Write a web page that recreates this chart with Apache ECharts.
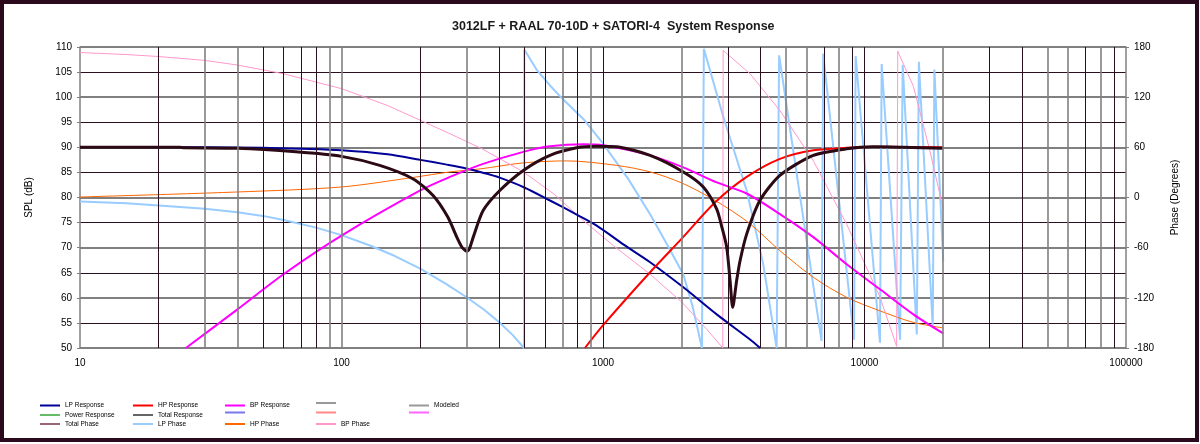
<!DOCTYPE html>
<html><head><meta charset="utf-8">
<script src="https://cdn.jsdelivr.net/npm/echarts@6/dist/echarts.min.js"></script>
<style>html,body{margin:0;padding:0;background:#fff}#c{width:1200px;height:444px}</style>
</head><body><div id="c"></div>
<script>
// ---- data ----
const title = '3012LF + RAAL 70-10D + SATORI-4  System Response';
const xTickLabels = [10, 100, 1000, 10000, 100000];
const gridFreqDark = [20, 50, 60, 70, 80, 200, 400, 500, 600, 800, 1000, 3000, 4000, 7000, 9000, 10000, 30000, 40000, 70000, 90000];
const gridFreqGray = [30, 40, 90, 100, 300, 700, 900, 2000, 5000, 6000, 8000, 20000, 50000, 60000, 80000];

const totalFreq = [10, 24, 25, 40, 67, 100, 140, 188, 224, 255, 276, 288, 295, 301, 308, 319, 348, 403, 496, 627, 793, 946, 1128, 1514, 2029, 2419, 2722, 2838, 2972, 3062, 3133, 3245, 3343, 3543, 3981, 4749, 6371, 8548, 10800, 14000, 20000];
const totalSpl  = [90, 90, 89.9, 89.8, 89.1, 88.2, 86.4, 83.7, 80.4, 76.1, 72.1, 70.2, 69.6, 69.3, 69.7, 72.1, 77.4, 81.4, 85.4, 88.4, 89.9, 90.2, 90.1, 88.4, 85.1, 82.1, 77.7, 74.4, 70.1, 63.4, 58.1, 63.5, 67.4, 72.7, 79.4, 84.4, 88.4, 89.7, 90.1, 90.0, 89.8];

const lpFreq = [10, 30, 50, 70, 100, 150, 200, 250, 300, 350, 400, 500, 627, 800, 946, 1200, 1514, 2029, 2722, 3650, 3990];
const lpSpl  = [90, 90, 89.9, 89.7, 89.4, 88.6, 87.5, 86.6, 85.8, 84.9, 84.0, 82.0, 79.4, 76.5, 74.4, 70.6, 67.1, 62.1, 56.7, 51.7, 50];

const hpFreq = [853, 1003, 1514, 2000, 2680, 3543, 4749, 6371, 8548, 11460, 20000];
const hpSpl  = [50, 54.6, 65.1, 71.8, 79.0, 84.1, 87.7, 89.4, 89.9, 90.1, 90.0];

const bpFreq = [25.4, 40, 60, 100, 200, 260, 348, 496, 627, 841, 1003, 1514, 2029, 2722, 3543, 4749, 6371, 8548, 11460, 15380, 20000];
const bpSpl  = [50, 57.7, 64.7, 72.4, 81.4, 84.1, 86.7, 89.1, 90.2, 90.6, 90.4, 88.4, 86.0, 83.0, 80.8, 76.7, 72.1, 66.7, 61.7, 56.7, 52.9];

const hpPhFreq = [10, 40, 100, 188, 260, 339, 496, 726, 1128, 1514, 2000, 2700, 3600, 4749, 6371, 8548, 11460, 15380, 20000];
const hpPhDeg  = [0.6, 6.6, 12.6, 24, 30.6, 34.2, 41.4, 43.8, 38.4, 30.6, 17.4, -4, -30, -63.6, -95.4, -119.4, -135.6, -149.4, -156];

const bpPhFreq = [10, 15, 20, 30, 40, 60, 100, 150, 200, 260, 345, 496, 650, 841, 1100, 1514, 2000, 2500, 2871, 2880, 3650, 4749, 6371, 8548, 11460, 13270, 13400, 15380, 17780, 20000];
const bpPhDeg  = [173.4, 171, 168.6, 164, 158.4, 148, 130.2, 110, 92.4, 76.2, 58.2, 30.6, 4, -27.6, -58, -91.8, -125, -158, -180, 176, 148, 104, 44, -32, -119, -178, 175, 133, 56, -14];

const lpPhFreq = [10, 15, 20, 30, 40, 50, 60, 80, 100, 130, 160, 200, 250, 300, 350, 400, 450, 499, 500, 560, 627, 700, 841, 1003, 1250, 1514, 1750, 2029, 2200, 2390, 2430, 2884, 3543, 4100, 4613, 4715, 6850, 6950, 9120, 9250, 11460, 11630, 13680, 14000, 15850, 16140, 18240, 18500, 20000];
const lpPhDeg  = [-4.8, -7, -9.6, -13.5, -17.6, -22, -27, -36, -45, -58, -70, -85, -103, -119, -134, -149, -164, -180, 177, 152, 134, 118, 94, 64, 22, -20, -55, -92, -130, -180, 178, 96.6, 8.4, -80, -180, 170, -171.6, 172, -170, 169, -173.6, 159.6, -170, 158.4, -163.8, 162.4, -155.6, 153, -75.6];

const zip = (xs, ys) => xs.map((x, i) => [x, ys[i]]);

const DARK = '#2a0f1f', GRAY = '#808080';
const axisFont = { fontFamily: 'Liberation Sans', fontSize: 10, color: '#000' };

function gridSeries(name, freqs, color, width) {
  return {
    name, type: 'line', data: [], z: 1, silent: true,
    markLine: { silent: true, symbol: 'none', animation: false,
      label: { show: false },
      lineStyle: { color, width, type: 'solid' },
      emphasis: { disabled: true },
      data: freqs.map(f => ({ xAxis: f })) }
  };
}
function line(name, data, color, width, yIdx, extra) {
  return Object.assign({ name, type: 'line', data, yAxisIndex: yIdx, showSymbol: false, symbol: 'none',
    color, lineStyle: { color, width }, z: 3, animation: false, emphasis: { disabled: true } }, extra || {});
}

const series = [
  gridSeries('gDark', gridFreqDark, DARK, 1),
  gridSeries('gGray', gridFreqGray, GRAY, 1.6),
  line('Total Phase', [], '#996677', 1, 1),
  line('LP Phase', zip(lpPhFreq, lpPhDeg), '#99ccff', 2, 1),
  line('HP Phase', zip(hpPhFreq, hpPhDeg), '#ff6600', 1, 1, { smooth: 0.3 }),
  line('BP Phase', zip(bpPhFreq, bpPhDeg), '#ff99cc', 1, 1),
  line('Power Response', [], '#66bb66', 2, 0),
  line('blank1', [], '#999999', 1, 0),
  line('Modeled', [], '#999999', 1, 0),
  line('blank2', [], '#7777ee', 2, 0),
  line('blank3', [], '#ff8888', 2, 0),
  line('blank4', [], '#ff66ff', 2, 0),
  line('LP Response', zip(lpFreq, lpSpl), '#000099', 2, 0, { smooth: 0.3 }),
  line('HP Response', zip(hpFreq, hpSpl), '#ff0000', 2, 0, { smooth: 0.3 }),
  line('BP Response', zip(bpFreq, bpSpl), '#ff00ff', 2, 0, { smooth: 0.3 }),
  line('Total Response', zip(totalFreq, totalSpl), '#2b0a14', 3, 0, { smooth: 0.25 })
];

const legendItems = [
  ['LP Response', 0, 0], ['HP Response', 1, 0], ['BP Response', 2, 0], ['blank1', 3, 0], ['Modeled', 4, 0],
  ['Power Response', 0, 1], [{ name: 'Total Response', itemStyle: { color: '#666666' } }, 1, 1], ['blank2', 2, 1], ['blank3', 3, 1], ['blank4', 4, 1],
  ['Total Phase', 0, 2], ['LP Phase', 1, 2], ['HP Phase', 2, 2], ['BP Phase', 3, 2]
];
const colX = [40, 133, 225, 316, 409];
const rowY = [402, 411.5, 420.5];
const legends = legendItems.map(([item, c, r]) => ({
  left: colX[c], top: rowY[r], padding: 0, itemGap: 0, itemWidth: 20, itemHeight: 2, icon: 'rect',
  selectedMode: false,
  formatter: n => n.startsWith('blank') ? '' : n,
  textStyle: { fontFamily: 'Liberation Sans', fontSize: 6.5, color: '#000' },
  data: [item]
}));

const chart = echarts.init(document.getElementById('c'), null, { renderer: 'canvas' });
chart.setOption({
  animation: false,
  backgroundColor: '#ffffff',
  title: { text: title, left: 452, top: 20, padding: 0,
    textStyle: { fontFamily: 'Liberation Sans', fontSize: 12.5, fontWeight: 'bold', color: '#1a1a1a' } },
  legend: legends,
  grid: { left: 80, right: 74, top: 47, bottom: 96, containLabel: false },
  xAxis: {
    type: 'log', logBase: 10, min: 10, max: 100000,
    axisLine: { lineStyle: { color: GRAY, width: 1.5 } },
    axisTick: { show: false },
    splitLine: { show: false },
    axisLabel: Object.assign({ margin: 10, formatter: v => xTickLabels.includes(Math.round(v)) ? String(Math.round(v)) : '' }, axisFont)
  },
  yAxis: [
    { type: 'value', min: 50, max: 110, interval: 5, position: 'left',
      name: 'SPL (dB)', nameLocation: 'middle', nameRotate: 90, nameGap: 46,
      nameTextStyle: { fontFamily: 'Liberation Sans', fontSize: 10, color: '#000' },
      axisLine: { show: true, lineStyle: { color: GRAY, width: 1.5 } },
      axisTick: { show: true, length: 3, lineStyle: { color: GRAY } },
      splitLine: { show: true, lineStyle: { color: DARK, width: 1 } },
      axisLabel: Object.assign({ margin: 8 }, axisFont) },
    { type: 'value', min: -180, max: 180, interval: 60, position: 'right',
      name: 'Phase (Degrees)', nameLocation: 'middle', nameRotate: 90, nameGap: 44,
      nameTextStyle: { fontFamily: 'Liberation Sans', fontSize: 10, color: '#000' },
      axisLine: { show: true, lineStyle: { color: GRAY, width: 1.5 } },
      axisTick: { show: true, length: 3, lineStyle: { color: GRAY } },
      splitLine: { show: true, lineStyle: { color: GRAY, width: 1.8 } },
      axisLabel: Object.assign({ margin: 8 }, axisFont) }
  ],
  graphic: [{ type: 'rect', silent: true, z: 100,
    shape: { x: 2, y: 2, width: 1195, height: 438 },
    style: { fill: 'none', stroke: '#2b0a1e', lineWidth: 4 } }],
  series
});
</script></body></html>
